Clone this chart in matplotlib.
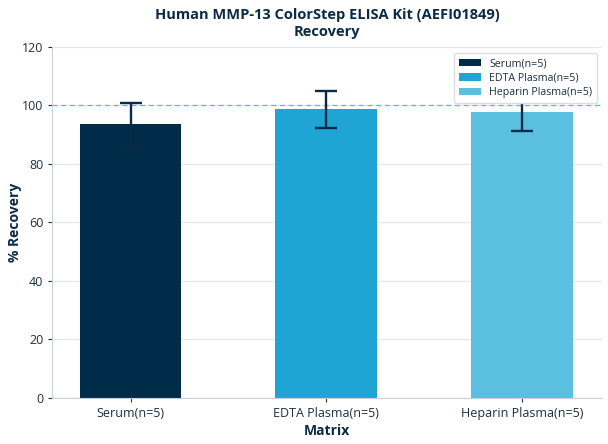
import matplotlib
matplotlib.use("Agg")
import matplotlib.pyplot as plt

categories = ["Serum(n=5)", "EDTA Plasma(n=5)", "Heparin Plasma(n=5)"]
recovery = [93.5, 98.6, 97.6]
errors = [7.4, 6.4, 6.6]
colors = ["#002B49", "#1FA5D3", "#5BBFE0"]
yticks = [0, 20, 40, 60, 80, 100, 120]

plt.rcParams['font.family'] = ['Open Sans', 'DejaVu Sans']

fig, ax = plt.subplots(figsize=(6.08, 4.44), dpi=100)
fig.subplots_adjust(left=0.086, right=0.99, top=0.895, bottom=0.104)

x = list(range(len(categories)))
for i, (c, v, e, col) in enumerate(zip(categories, recovery, errors, colors)):
    ax.bar(i, v, width=0.52, color=col, label=c, zorder=2)
    ax.errorbar(i, v, yerr=e, fmt='none', ecolor="#0B2A45", elinewidth=1.7,
                capsize=8, capthick=1.7, zorder=3)

ax.axhline(100, color="#5FB8D3", linestyle=(0, (4, 3)), linewidth=0.9, zorder=1)

ax.set_xlim(-0.4, 2.41)
ax.set_ylim(0, 120)
ax.set_yticks(yticks)
ax.set_xticks(x)
ax.set_xticklabels(categories)
ax.tick_params(colors="#1E2E40", labelsize=9, length=3)
for lab in ax.get_yticklabels() + ax.get_xticklabels():
    lab.set_color("#1E2E40")
ax.yaxis.grid(True, color="#E3E8EC", linewidth=0.9, zorder=0)
ax.set_axisbelow(True)
for s in ["top", "right"]:
    ax.spines[s].set_visible(False)
for s in ["left", "bottom"]:
    ax.spines[s].set_color("#C5D0D8")

ax.set_ylabel("% Recovery", fontsize=10, fontweight='bold', color="#0B2A45", labelpad=0)
ax.set_xlabel("Matrix", fontsize=10, fontweight='bold', color="#0B2A45", labelpad=3)
ax.set_title("Human MMP-13 ColorStep ELISA Kit (AEFI01849)\nRecovery",
             fontsize=10.5, fontweight='bold', color="#0B2A45", linespacing=1.2, pad=8)

leg = ax.legend(loc="upper right", fontsize=7.7, frameon=True, fancybox=True,
                edgecolor="#DDDDDD", framealpha=1.0, borderpad=0.45,
                labelspacing=0.32, handlelength=2.0, handleheight=0.7,
                borderaxespad=0.3, bbox_to_anchor=(0.997, 0.99))
leg.set_zorder(5)
for t in leg.get_texts():
    t.set_color("#1E2E40")

fig.savefig("out.png", dpi=100)
